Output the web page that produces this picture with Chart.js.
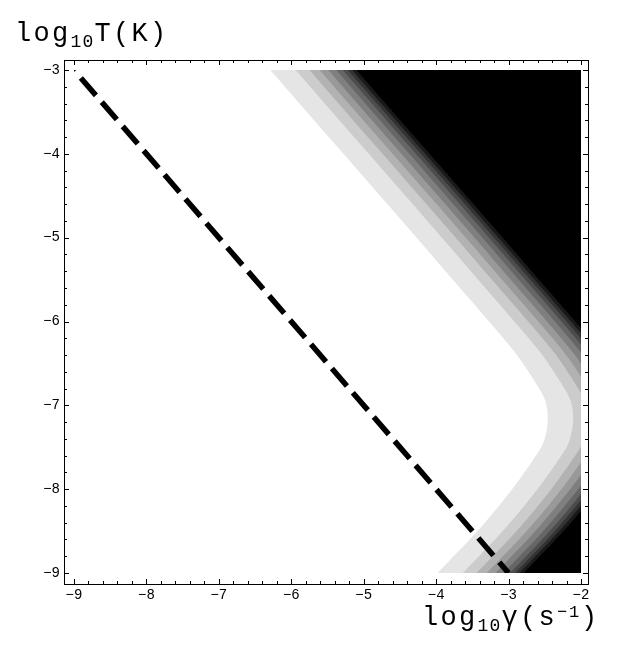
<!DOCTYPE html>
<html>
<head>
<meta charset="utf-8">
<script src="https://cdn.jsdelivr.net/npm/chart.js@4/dist/chart.umd.min.js"></script>
<style>
    html, body { margin: 0; padding: 0; background: #fff; }
    #contourPlot { display: block; }
</style>
</head>
<body>
<canvas id="contourPlot" width="627" height="668"></canvas>
<script>
// tick labels
var xTicks = [-9, -8, -7, -6, -5, -4, -3, -2];
var yTicks = [-9, -8, -7, -6, -5, -4, -3];

// edge of the first (lightest) contour band
var edgeLogT     = [-3, -4, -5, -5.75, -6.35, -6.7, -6.95, -7.2, -7.45, -7.65, -8.0, -8.5, -9];
var edgeLogGamma = [-6.29, -5.28, -4.27, -3.52, -2.93, -2.65, -2.49, -2.46, -2.52, -2.66, -2.95, -3.43, -3.98];

// every further contour is that edge moved right in log10 gamma by this much
var contourShift = [0, 0.35, 0.54, 0.68, 0.80, 0.91, 1.00, 1.07, 1.13, 1.19];
var bandGray = ['#e5e5e5', '#cccccc', '#b2b2b2', '#999999', '#7f7f7f',
                '#666666', '#4c4c4c', '#333333', '#191919', '#000000'];

// dashed line
var dashLogGamma = [-9, -3];
var dashLogT = [-3, -9];

var FONT = '"Liberation Mono", "DejaVu Sans Mono", monospace';

function PlotFrame() {
    this.id = 'plotFrame';
}

PlotFrame.prototype = {
    constructor: PlotFrame,

    _drawTitle: function (ctx, x, y, parts) {
        // parts: [text, size, advance, shift]
        parts.forEach(function (p) {
            ctx.font = p[1] + 'px ' + FONT;
            for (var i = 0; i < p[0].length; i++) {
                ctx.fillText(p[0][i], x, y + p[3]);
                x += p[2];
            }
        });
    },

    afterDraw: function (chart) {
        var ctx = chart.ctx;
        var ca = chart.chartArea;
        var sx = chart.scales.x, sy = chart.scales.y;
        var left = ca.left - 10, right = ca.right + 7;
        var top = ca.top - 10, bottom = ca.bottom + 11;
        var i, v, p, len;

        ctx.save();
        ctx.strokeStyle = '#000';
        ctx.lineWidth = 1;
        ctx.strokeRect(left + 0.5, top + 0.5, right - left, bottom - top);

        ctx.beginPath();
        for (i = 0; i <= 35; i++) {
            v = -9 + i / 5;
            p = Math.round(sx.getPixelForValue(v)) + 0.5;
            len = i % 5 === 0 ? 5 : 3;
            ctx.moveTo(p, bottom); ctx.lineTo(p, bottom - len);
            ctx.moveTo(p, top); ctx.lineTo(p, top + len);
        }
        for (i = 0; i <= 30; i++) {
            v = -9 + i / 5;
            p = Math.round(sy.getPixelForValue(v)) + 0.5;
            len = i % 5 === 0 ? 5 : 3;
            ctx.moveTo(left, p); ctx.lineTo(left + len, p);
            ctx.moveTo(right, p); ctx.lineTo(right - len, p);
        }
        ctx.stroke();

        ctx.fillStyle = '#000';
        ctx.font = '14px ' + FONT;
        ctx.textBaseline = 'middle';
        ctx.textAlign = 'center';
        xTicks.forEach(function (t) {
            ctx.fillText('\u2212' + Math.abs(t), sx.getPixelForValue(t), bottom + 11);
        });
        ctx.textAlign = 'right';
        yTicks.forEach(function (t) {
            ctx.fillText('\u2212' + Math.abs(t), left - 4, sy.getPixelForValue(t));
        });

        ctx.textAlign = 'left';
        ctx.textBaseline = 'alphabetic';
        this._drawTitle(ctx, 15, 41, [
            ['log', 27, 18.5, 0], ['10', 18, 12, 6], ['T(K)', 27, 18.5, 0]
        ]);
        this._drawTitle(ctx, 422, 625, [
            ['log', 27, 18.5, 0], ['10', 18, 12, 6], ['\u03b3(s', 27, 18.5, 0],
            ['\u22121', 17, 12, -8], [')', 27, 18.5, 0]
        ]);
        ctx.restore();
    }
};

var datasets = [{
    data: dashLogGamma.map(function (g, i) { return {x: g, y: dashLogT[i]}; }),
    borderColor: '#000',
    borderWidth: 5.5,
    borderDash: [23, 9],
    borderDashOffset: 21.5,
    borderCapStyle: 'butt',
    pointRadius: 0,
    fill: false,
    tension: 0
}];

for (var k = contourShift.length - 1; k >= 0; k--) {
    datasets.push({
        data: edgeLogT.map(function (t, i) { return {x: edgeLogGamma[i] + contourShift[k], y: t}; }),
        borderWidth: 0,
        pointRadius: 0,
        backgroundColor: bandGray[k],
        fill: {value: -2},
        tension: 0.3
    });
}

new Chart(document.getElementById('contourPlot').getContext('2d'), {
    type: 'line',
    data: { datasets: datasets },
    options: {
        indexAxis: 'y',
        responsive: false,
        animation: false,
        events: [],
        layout: { padding: { left: 74, right: 46, top: 70, bottom: 95 } },
        elements: { line: { capBezierPoints: false } },
        plugins: { legend: { display: false }, tooltip: { enabled: false } },
        scales: {
            x: { type: 'linear', min: -9, max: -2, display: false },
            y: { type: 'linear', min: -9, max: -3, display: false }
        }
    },
    plugins: [new PlotFrame()]
});
</script>
</body>
</html>
